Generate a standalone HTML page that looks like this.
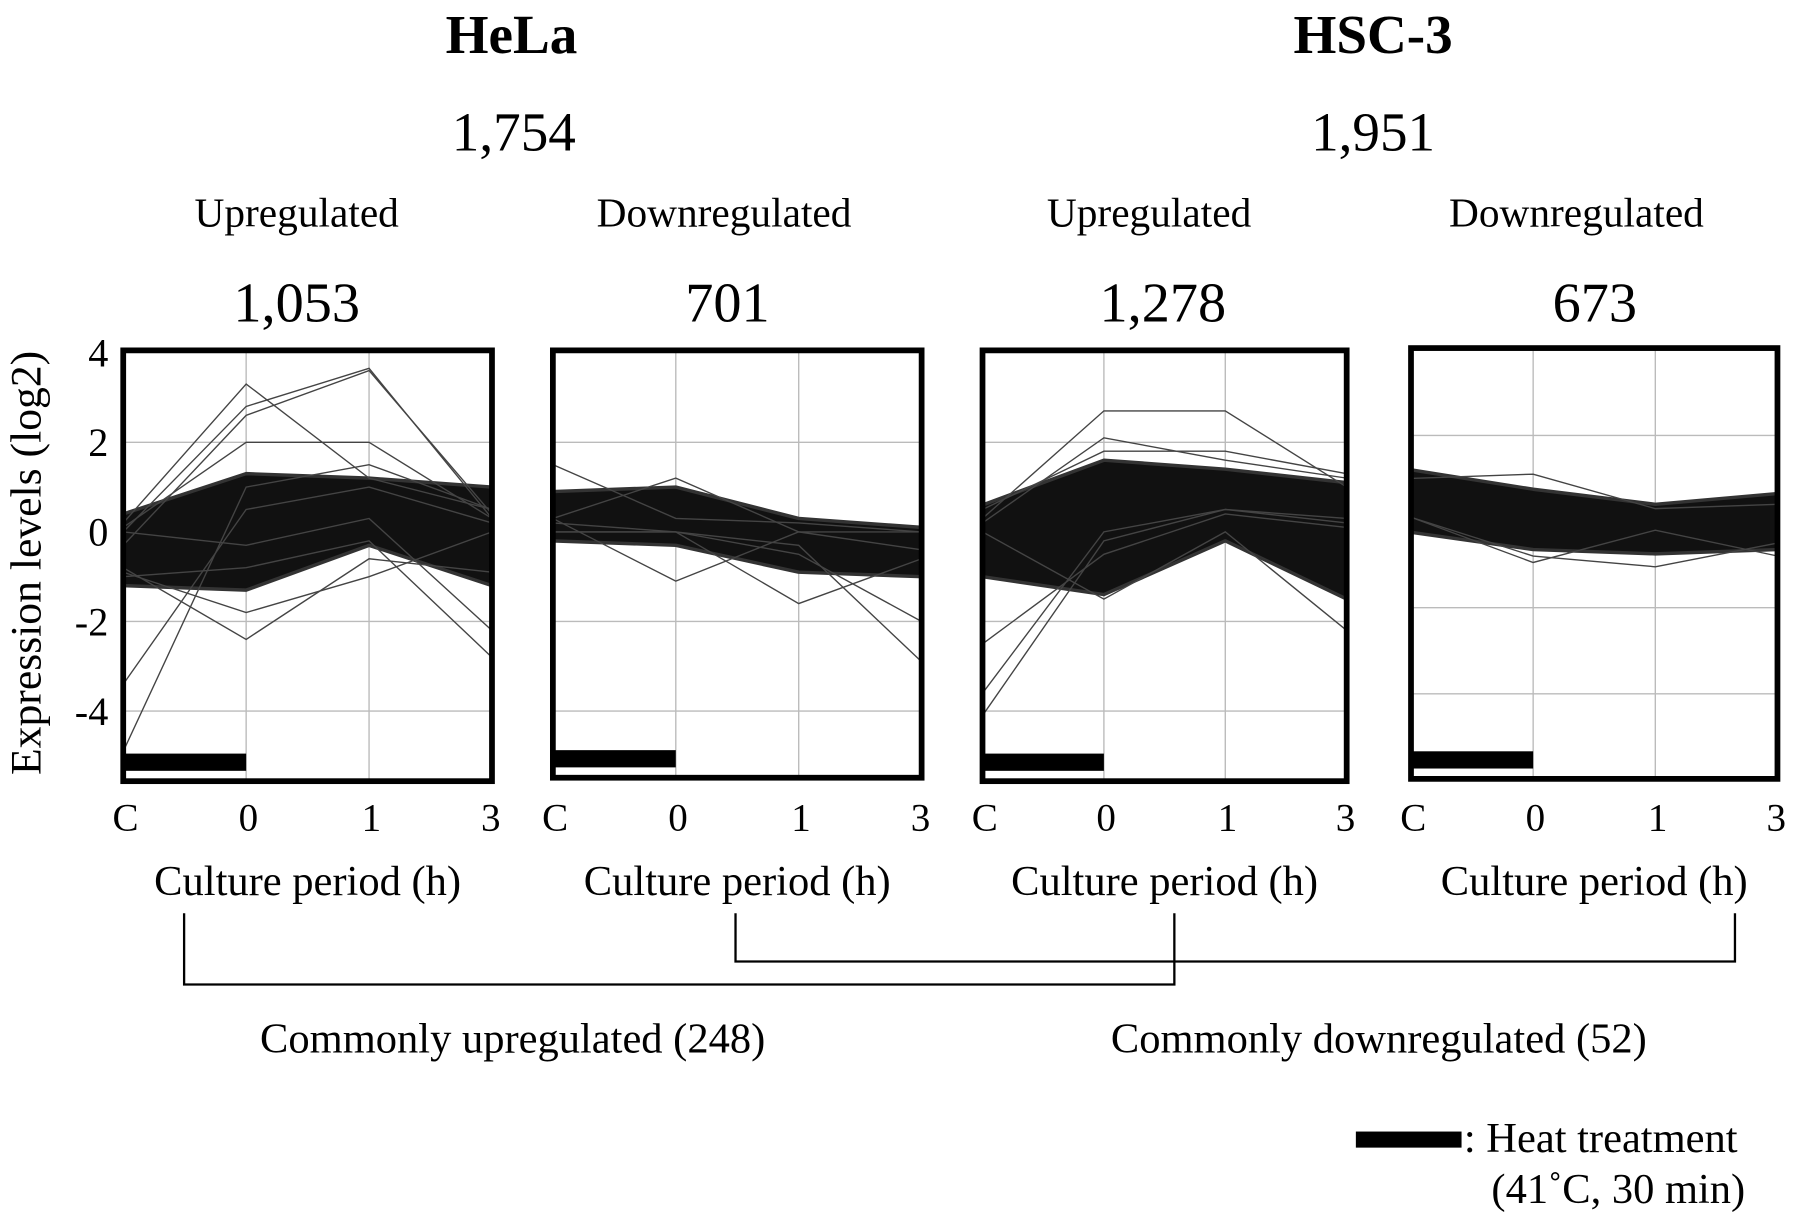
<!DOCTYPE html>
<html><head><meta charset="utf-8"><style>
html,body{margin:0;padding:0;background:#fff;}
svg{display:block;font-family:"Liberation Serif",serif;}
</style></head><body>
<svg id="fig" width="1795" height="1220" viewBox="0 0 1562 1062">
<g>
<text x="445" y="46" font-size="48" font-weight="bold" text-anchor="middle">HeLa</text>
<text x="1195" y="46" font-size="48" font-weight="bold" text-anchor="middle">HSC-3</text>
<text x="447" y="131" font-size="48" text-anchor="middle">1,754</text>
<text x="1195" y="131" font-size="48" text-anchor="middle">1,951</text>
</g>
<g id="panels"></g>
<text transform="translate(35,490) rotate(-90)" font-size="38" text-anchor="middle">Expression levels (log2)</text>
<g fill="none" stroke="#000" stroke-width="2">
<path d="M160 795 V857 H1022 V795"/>
<path d="M640 795 V837 H1510 V795"/>
</g>
<text x="446" y="916" font-size="37" text-anchor="middle">Commonly upregulated (248)</text>
<text x="1200" y="916" font-size="37" text-anchor="middle">Commonly downregulated (52)</text>
<g>
<rect x="1180" y="985" width="92" height="14" fill="#000"/>
<text x="1274" y="1003" font-size="37">: Heat treatment</text>
<text x="1298" y="1047" font-size="37">(41˚C, 30 min)</text>
</g>
</svg>
<script>
// time points
const categories = ["C","0","1","3"];
const yTicks = [4,2,0,-2,-4];
const panelLabels = ["Upregulated","Downregulated","Upregulated","Downregulated"];
const panelCounts = ["1,053","701","1,278","673"];
// dense band upper / lower envelopes (log2)
const bandUpper1 = [0.4, 1.3, 1.2, 1.0];
const bandLower1 = [-1.2, -1.3, -0.3, -1.2];
const bandUpper2 = [0.9, 1.0, 0.3, 0.1];
const bandLower2 = [-0.2, -0.3, -0.9, -1.0];
const bandUpper3 = [0.6, 1.6, 1.4, 1.1];
const bandLower3 = [-1.0, -1.4, -0.2, -1.5];
const bandUpper4 = [1.2, 0.75, 0.4, 0.65];
const bandLower4 = [-0.25, -0.65, -0.75, -0.65];
// outlier profiles
const outliers1 = [[0.2,3.3,1.2,0.5],[0,2.8,3.65,0.3],[-0.3,2.6,3.6,0.4],[-4.9,1.0,1.5,0.5],[-3.4,0.5,1.0,0.2],[-0.8,-2.4,-0.6,-0.9],[-0.9,-1.8,-1.0,0.0],[0.1,2.0,2.0,0.3],[-1.0,-0.8,-0.2,-2.8],[0,-0.3,0.3,-2.2]];
const outliers2 = [[1.5,0.3,0.2,0.0],[0.3,-1.1,0.0,-0.4],[0.2,0.0,-1.6,-0.6],[0,0,-0.3,-2.9],[0,0,-0.5,-2.0],[0.3,1.2,0,0]];
const outliers3 = [[0.3,2.7,2.7,1.0],[0.2,2.1,1.6,1.2],[-4.1,-0.2,0.5,0.2],[-3.6,0,0.5,0.3],[-2.5,-0.5,0.4,0.1],[0,-1.5,0,-2.2],[0.5,1.8,1.8,1.3]];
const outliers4 = [[1.0,1.1,0.3,0.4],[0.1,-0.95,-0.2,-0.8],[0.1,-0.8,-1.05,-0.5]];

const panels = [
 {x0:107,x1:428,top:305,bot:680,z:463,u:39,up:bandUpper1,lo:bandLower1,out:outliers1,lab:258,cnt:258,ticks:true},
 {x0:481,x1:802,top:305,bot:677,z:463,u:39,up:bandUpper2,lo:bandLower2,out:outliers2,lab:630,cnt:633},
 {x0:855,x1:1172,top:305,bot:680,z:463,u:39,up:bandUpper3,lo:bandLower3,out:outliers3,lab:1000,cnt:1012},
 {x0:1228,x1:1547,top:303,bot:678,z:454,u:37.5,up:bandUpper4,lo:bandLower4,out:outliers4,lab:1372,cnt:1388}
];
const NS="http://www.w3.org/2000/svg";
const root=document.getElementById('panels');
function mk(tag,attrs,parent){const e=document.createElementNS(NS,tag);for(const k in attrs)e.setAttribute(k,attrs[k]);parent.appendChild(e);return e;}
panels.forEach((p,i)=>{
  const g=mk('g',{},root);
  
  
  const xs=k=>p.x0+(p.x1-p.x0)*k/(categories.length-1);
  const ys=v=>p.z-v*p.u;
  yTicks.forEach(t=>{const y=ys(t);if(y>p.top+4&&y<p.bot-4){const l=mk('line',{x1:p.x0,x2:p.x1,y1:y,y2:y,stroke:'#bbb','stroke-width':1.2},g);
  
  }});
  [1,2].forEach(k=>{const l=mk('line',{x1:xs(k),x2:xs(k),y1:p.top,y2:p.bot,stroke:'#bbb','stroke-width':1.2},g);
  
  });
  const ptsU=p.up.map((v,k)=>xs(k)+','+ys(v));
  const ptsL=p.lo.map((v,k)=>xs(k)+','+ys(v)).reverse();
  const band=mk('polygon',{points:ptsU.concat(ptsL).join(' '),fill:'#111',stroke:'#333','stroke-width':3,'stroke-linejoin':'round'},g);
  
  
  p.out.forEach(o=>{const pl=mk('polyline',{points:o.map((v,k)=>xs(k)+','+ys(v)).join(' '),fill:'none',stroke:'#444','stroke-width':1.2},g);
  
  });
  const hb=mk('rect',{x:p.x0,y:p.bot-24,width:xs(1)-p.x0,height:15,fill:'#000'},g);
  
  
  const fr=mk('rect',{x:p.x0,y:p.top,width:p.x1-p.x0,height:p.bot-p.top,fill:'none',stroke:'#000','stroke-width':5},g);
  
  
  categories.forEach((c,k)=>{const t=mk('text',{x:xs(k)+(k==0?2:k==3?-1:2),y:723,'font-size':34,'text-anchor':'middle'},g);t.textContent=c;
  
  });
  const xt=mk('text',{x:(p.x0+p.x1)/2,y:779,'font-size':37,'text-anchor':'middle'},g);xt.textContent='Culture period (h)';
  
  
  const lb=mk('text',{x:p.lab,y:197,'font-size':36,'text-anchor':'middle'},g);lb.textContent=panelLabels[i];
  
  
  const ct=mk('text',{x:p.cnt,y:280,'font-size':49,'text-anchor':'middle'},g);ct.textContent=panelCounts[i];
  
  
  if(p.ticks){yTicks.forEach(t=>{const tt=mk('text',{x:94,y:ys(t)+12,'font-size':35,'text-anchor':'end'},g);tt.textContent=t;
  
  });}
});
</script>
</body></html>
